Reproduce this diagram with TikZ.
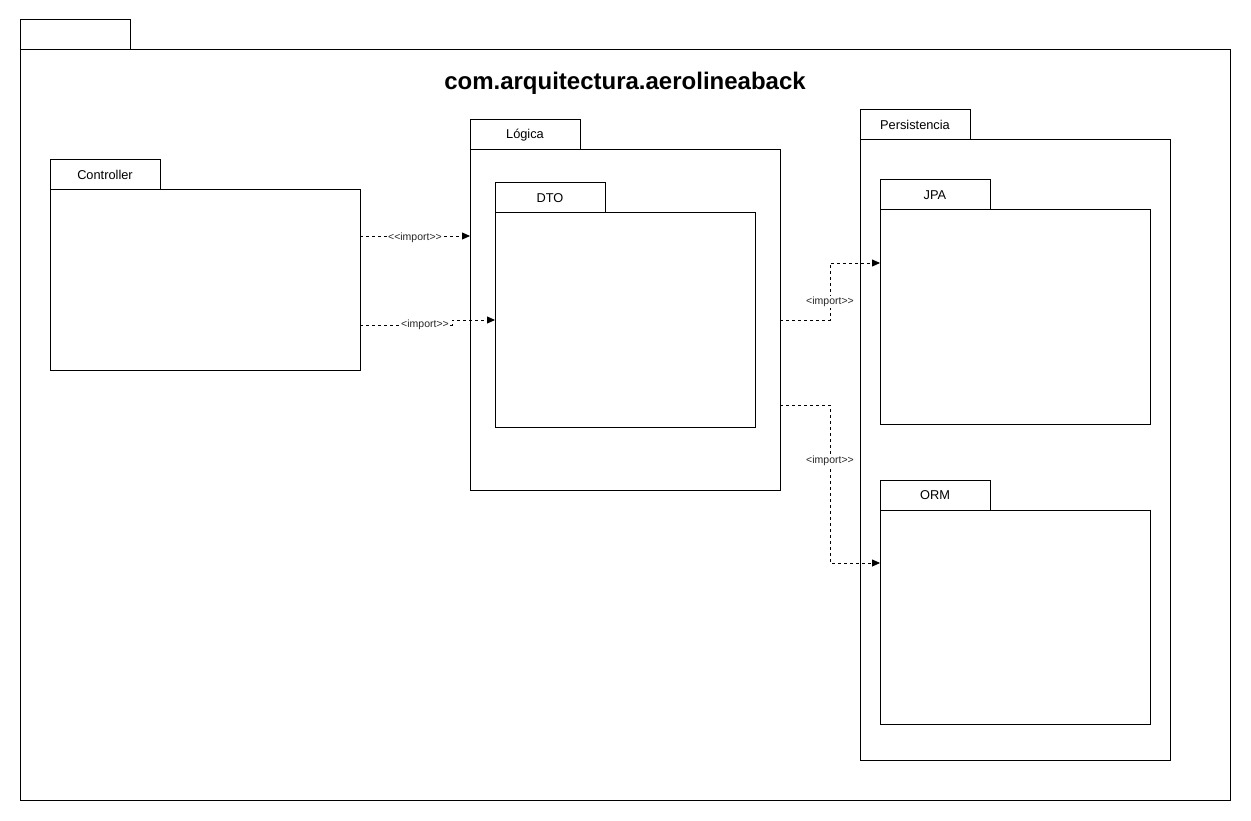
\documentclass[tikz,border=0pt]{standalone}
\usepackage{fontspec}
\setmainfont{Liberation Sans}[Ligatures=NoCommon]
\usetikzlibrary{arrows.meta}
\begin{document}
\begin{tikzpicture}[x=1pt,y=-1pt,
  frame/.style={draw=black,line width=1pt,fill=white},
  tablbl/.style={font=\fontsize{12.8}{15}\selectfont,inner sep=0pt},
  dep/.style={draw=black,line width=0.8pt,dash pattern=on 3pt off 3pt,-{Triangle[length=8pt,width=7pt]}},
  deplbl/.style={font=\fontsize{10.5}{12}\selectfont,fill=white,inner sep=1pt,text=black!85}]
\useasboundingbox (0,0) rectangle (1251,821);
% outer package
\draw[frame] (20,20) rectangle (130,50);
\draw[frame] (20,50) rectangle (1230,800);
\node[font=\bfseries\fontsize{24}{28}\selectfont] (title) at (625,83) {com.arquitectura.aerolineaback};
% Controller
\draw[frame] (50,160) rectangle (160,190);
\node[tablbl] (ctab) at (105,175) {Controller};
\draw[frame] (50,190) rectangle (360,370);
% Logica
\draw[frame] (470,120) rectangle (580,150);
\node[tablbl] (ltab) at (525,135) {Lógica};
\draw[frame] (470,150) rectangle (780,490);
% DTO
\draw[frame] (495,183) rectangle (605,213);
\node[tablbl] (dtab) at (550,198) {DTO};
\draw[frame] (495,213) rectangle (755,427);
% Persistencia
\draw[frame] (860,110) rectangle (970,140);
\node[tablbl] (ptab) at (915,125) {Persistencia};
\draw[frame] (860,140) rectangle (1170,760);
% JPA
\draw[frame] (880,180) rectangle (990,210);
\node[tablbl] (jtab) at (935,195) {JPA};
\draw[frame] (880,210) rectangle (1150,424);
% ORM
\draw[frame] (880,480) rectangle (990,510);
\node[tablbl] (otab) at (935,495) {ORM};
\draw[frame] (880,510) rectangle (1150,724);
% connector end points
\coordinate (c1s) at (360,236); \coordinate (c1e) at (470,236);
\coordinate (c2s) at (360,325); \coordinate (c2e) at (495,320);
\coordinate (l1s) at (780,320); \coordinate (l1e) at (880,263);
\coordinate (l2s) at (780,405); \coordinate (l2e) at (880,563);
% connectors
\draw[dep] (c1s) -- (c1e);
\node[deplbl] (lab1) at (415,238) {{<}{<}import{>}{>}};
\draw[dep] (c2s) -- (452,325) -- (452,320) -- (c2e);
\node[deplbl] (lab2) at (425,325) {{<}import{>}{>}};
\draw[dep] (l1s) -- (830,320) -- (830,263) -- (l1e);
\node[deplbl] (lab3) at (830,302) {{<}import{>}{>}};
\draw[dep] (l2s) -- (830,405) -- (830,563) -- (l2e);
\node[deplbl] (lab4) at (830,461) {{<}import{>}{>}};
\end{tikzpicture}
\end{document}
